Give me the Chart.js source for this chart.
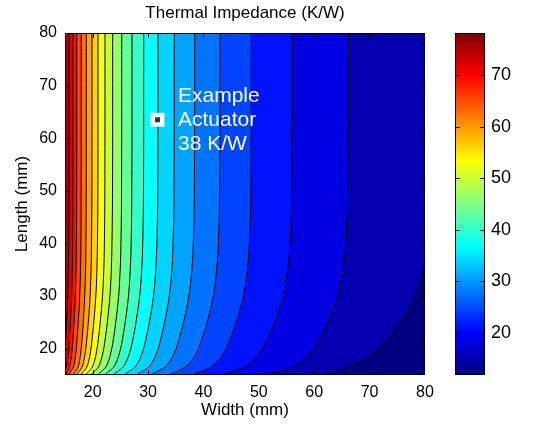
<!DOCTYPE html>
<html>
<head>
<meta charset="utf-8">
<script src="https://cdn.jsdelivr.net/npm/chart.js@4.4.1/dist/chart.umd.min.js"></script>
<style>
  body { margin: 0; background: #fff; }
  #wrap { position: relative; width: 540px; height: 429px; }
  canvas { position: absolute; top: 0; }
  #main { left: 0; }
  #bar { left: 455px; }
</style>
</head>
<body>
<div id="wrap">
  <canvas id="main" width="540" height="429"></canvas>
  <canvas id="bar" width="85" height="429"></canvas>
</div>
<script>
// contour levels (K/W)
const contourLevels = [15.0, 18.1, 21.3, 24.5, 27.6, 30.8, 33.9, 37.1, 40.3, 43.4,
  46.6, 49.7, 52.9, 56.1, 59.2, 62.4, 65.5, 68.7, 71.8, 75.0];

// lengths (mm) at which each contour's width was read
const lengthRows = [80, 50, 40, 35, 30, 25, 22, 20, 18, 16.5, 15];

// width (mm) of each contour line at the lengths above, one row per level
const contourWidths = [
  [81.5, 81.3, 80.6, 79.7, 78.2, 75.5, 73.3, 71.6, 69.1, 66.0, 62.3],
  [66.16, 66.05, 65.67, 65.18, 64.2, 62.38, 60.98, 59.86, 58.18, 56.08, 52.16],
  [56.04, 55.94, 55.62, 55.2, 54.36, 52.8, 51.6, 50.64, 49.2, 47.4, 44.04],
  [48.64, 48.56, 48.28, 47.93, 47.21, 45.89, 44.87, 44.05, 42.83, 41.3, 38.44],
  [42.99, 42.92, 42.69, 42.38, 41.77, 40.64, 39.77, 39.08, 38.03, 36.73, 34.29],
  [38.42, 38.36, 38.16, 37.9, 37.37, 36.4, 35.65, 35.05, 34.15, 33.02, 30.92],
  [34.74, 34.69, 34.51, 34.29, 33.83, 32.98, 32.33, 31.82, 31.04, 30.06, 28.24],
  [31.79, 31.74, 31.59, 31.38, 30.98, 30.22, 29.64, 29.18, 28.48, 27.61, 25.99],
  [29.21, 29.17, 29.03, 28.85, 28.48, 27.81, 27.29, 26.87, 26.25, 25.47, 24.01],
  [27.1, 27.06, 26.94, 26.78, 26.46, 25.86, 25.4, 25.03, 24.48, 23.79, 22.5],
  [25.24, 25.21, 25.1, 24.96, 24.68, 24.16, 23.76, 23.44, 22.96, 22.36, 21.24],
  [23.61, 23.58, 23.48, 23.36, 23.11, 22.64, 22.28, 21.99, 21.56, 21.02, 20.01],
  [22.22, 22.19, 22.11, 22.0, 21.77, 21.36, 21.04, 20.78, 20.4, 19.92, 19.02],
  [20.96, 20.94, 20.86, 20.76, 20.57, 20.2, 19.92, 19.7, 19.36, 18.94, 18.16],
  [19.88, 19.86, 19.79, 19.71, 19.53, 19.21, 18.96, 18.76, 18.46, 18.08, 17.38],
  [18.85, 18.83, 18.78, 18.71, 18.56, 18.3, 18.09, 17.93, 17.68, 17.37, 16.8],
  [17.94, 17.92, 17.87, 17.8, 17.66, 17.4, 17.2, 17.04, 16.8, 16.5, 15.94],
  [17.11, 17.1, 17.05, 16.98, 16.86, 16.62, 16.44, 16.3, 16.08, 15.81, 15.31],
  [16.44, 16.43, 16.38, 16.32, 16.2, 15.98, 15.81, 15.68, 15.47, 15.22, 14.74],
  [15.72, 15.71, 15.66, 15.61, 15.5, 15.29, 15.13, 15.0, 14.81, 14.57, 14.12],
];

const widthTicks = [20, 30, 40, 50, 60, 70, 80];
const lengthTicks = [20, 30, 40, 50, 60, 70, 80];
const colorTicks = [20, 30, 40, 50, 60, 70];
const colorMin = 11.8;
const colorMax = 78.2;

const actuator = { x: 31.7, y: 63.5 };
const noteLines = ["Example", "Actuator", "38 K/W"];

const xMin = 15, xMax = 80, yMin = 15, yMax = 80;
const FONT = "'Liberation Sans', Arial, sans-serif";

Chart.defaults.font.family = FONT;
Chart.defaults.color = "#000";
Chart.defaults.animation = false;

function jet(v) {
  const t = (v - colorMin) / (colorMax - colorMin);
  const c = (f) => Math.round(255 * Math.max(0, Math.min(1, 1.5 - Math.abs(4 * t - f))));
  return "rgb(" + c(3) + "," + c(2) + "," + c(1) + ")";
}

// each region = everything right of a contour line, drawn big to small
const datasets = [];
contourLevels.forEach((level, k) => {
  const pts = lengthRows.map((len, j) => ({ x: contourWidths[k][j], y: len }));
  pts.push({ x: xMax, y: yMin }, { x: xMax, y: yMax });
  datasets.push({
    data: pts,
    showLine: true,
    fill: "shape",
    backgroundColor: jet(k ? contourLevels[k - 1] : colorMin),
    borderColor: "#000",
    borderWidth: 1,
    pointRadius: 0,
    tension: 0.4,
    order: k + 1,
  });
});
datasets.push({
  data: [{ x: xMin, y: yMax }, { x: xMax, y: yMax }, { x: xMax, y: yMin }, { x: xMin, y: yMin }],
  showLine: true,
  fill: "shape",
  backgroundColor: jet(contourLevels[contourLevels.length - 1]),
  borderWidth: 0,
  pointRadius: 0,
  tension: 0,
  order: contourLevels.length + 1,
});
datasets.push({
  data: [actuator],
  showLine: false,
  pointStyle: "rect",
  pointRadius: 6.7,
  borderWidth: 4.5,
  borderColor: "#fff",
  backgroundColor: "#143f48",
  order: 0,
});

// box frame with inward tick marks, like the original
const frame = {
  id: "frame",
  afterDatasetsDraw(chart, args, opts) {
    const { ctx, chartArea: a, scales } = chart;
    ctx.save();
    ctx.strokeStyle = "#000";
    ctx.lineWidth = 1;
    ctx.strokeRect(a.left + 0.5, a.top + 0.5, a.width - 1, a.height - 1);
    const len = 5;
    ctx.beginPath();
    if (opts.x) {
      scales.x.ticks.forEach((t) => {
        const px = Math.round(scales.x.getPixelForValue(t.value)) + 0.5;
        if (px > a.right - 2) return;
        ctx.moveTo(px, a.bottom); ctx.lineTo(px, a.bottom - len);
        ctx.moveTo(px, a.top); ctx.lineTo(px, a.top + len);
      });
    }
    scales.y.ticks.forEach((t) => {
      const py = Math.round(scales.y.getPixelForValue(t.value)) + 0.5;
      if (py < a.top + 2) return;
      ctx.moveTo(a.left, py); ctx.lineTo(a.left + len, py);
      ctx.moveTo(a.right, py); ctx.lineTo(a.right - len, py);
    });
    ctx.stroke();
    ctx.restore();
  },
};

const note = {
  id: "note",
  afterDatasetsDraw(chart) {
    const { ctx, scales } = chart;
    const px = scales.x.getPixelForValue(35.4);
    const py = scales.y.getPixelForValue(actuator.y);
    ctx.save();
    ctx.fillStyle = "#fff";
    ctx.font = "21px " + FONT;
    ctx.textBaseline = "middle";
    noteLines.forEach((s, i) => ctx.fillText(s, px, py + (i - 1) * 24));
    ctx.restore();
  },
};

new Chart(document.getElementById("main"), {
  type: "scatter",
  data: { datasets },
  options: {
    responsive: false,
    layout: { padding: { left: 0, right: 115, top: 0, bottom: 0 } },
    plugins: { legend: { display: false }, tooltip: { enabled: false }, frame: { x: true } },
    scales: {
      x: {
        type: "linear",
        position: "bottom",
        min: xMin,
        max: xMax,
        afterBuildTicks: (s) => { s.ticks = widthTicks.map((v) => ({ value: v })); },
        afterFit: (s) => { s.height = 54; },
        grid: { display: false, drawTicks: false },
        border: { display: false },
        ticks: { padding: 8, font: { size: 16 } },
        title: { display: true, text: "Width (mm)", font: { size: 17 }, padding: { top: 0, bottom: 8 } },
      },
      top: {
        type: "linear",
        axis: "x",
        position: "top",
        min: xMin,
        max: xMax,
        afterFit: (s) => { s.height = 33; },
        grid: { display: false, drawTicks: false },
        border: { display: false },
        ticks: { display: false },
        title: { display: true, text: "Thermal Impedance (K/W)", font: { size: 17 }, padding: { top: 3, bottom: 0 } },
      },
      y: {
        type: "linear",
        position: "left",
        min: yMin,
        max: yMax,
        afterBuildTicks: (s) => { s.ticks = lengthTicks.map((v) => ({ value: v })); },
        afterFit: (s) => { s.width = 65; },
        grid: { display: false, drawTicks: false },
        border: { display: false },
        ticks: { padding: 8, font: { size: 16 } },
        title: { display: true, text: "Length (mm)", font: { size: 17 }, padding: { top: 12, bottom: 0 } },
      },
    },
  },
  plugins: [note, frame],
});

// colorbar
function jetGradient(context) {
  const area = context.chart.chartArea;
  if (!area) return null;
  const g = context.chart.ctx.createLinearGradient(0, area.bottom, 0, area.top);
  [[0, "#000080"], [0.125, "#0000ff"], [0.375, "#00ffff"], [0.625, "#ffff00"], [0.875, "#ff0000"], [1, "#800000"]]
    .forEach(([t, c]) => g.addColorStop(t, c));
  return g;
}

new Chart(document.getElementById("bar"), {
  type: "bar",
  data: {
    labels: ["K/W"],
    datasets: [{
      data: [[colorMin, colorMax]],
      backgroundColor: jetGradient,
      borderWidth: 0,
      barPercentage: 1,
      categoryPercentage: 1,
    }],
  },
  options: {
    responsive: false,
    layout: { padding: { left: 0, right: 0, top: 33, bottom: 54 } },
    plugins: { legend: { display: false }, tooltip: { enabled: false }, frame: { x: false } },
    scales: {
      x: { display: false },
      y: {
        position: "right",
        min: colorMin,
        max: colorMax,
        afterBuildTicks: (s) => { s.ticks = colorTicks.map((v) => ({ value: v })); },
        afterFit: (s) => { s.width = 55; },
        grid: { display: false, drawTicks: false },
        border: { display: false },
        ticks: { padding: 6, font: { size: 18 } },
      },
    },
  },
  plugins: [frame],
});
</script>
</body>
</html>
